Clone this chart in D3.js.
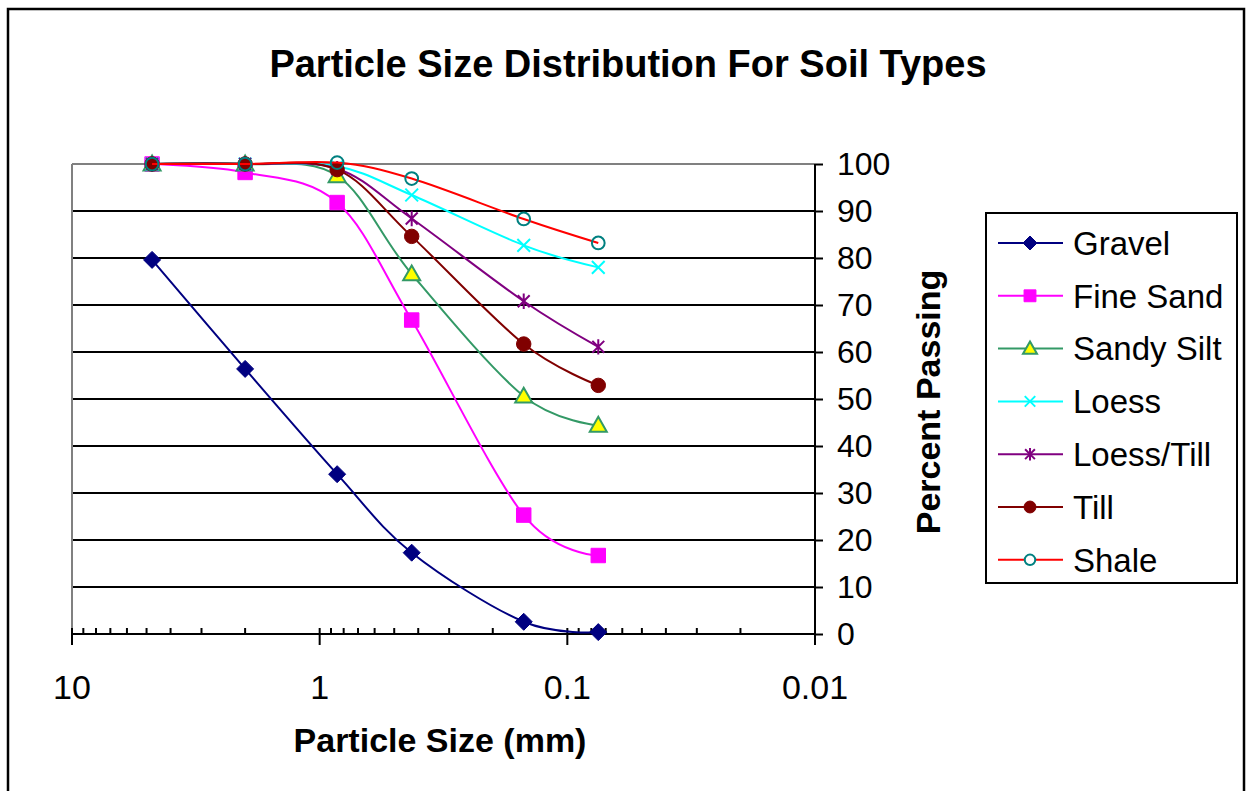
<!DOCTYPE html>
<html>
<head>
<meta charset="utf-8">
<script src="https://cdn.jsdelivr.net/npm/d3@7/dist/d3.min.js"></script>
<style>
  html, body { margin: 0; padding: 0; background: #fff; }
  svg { display: block; }
  text { font-family: Arial, "Liberation Sans", sans-serif; fill: #000; }
</style>
</head>
<body>
<svg id="chart" width="1246" height="791"></svg>
<script>
// ---- Data ----
const sieveSizes = [4.75, 2.0, 0.85, 0.425, 0.15, 0.075];
const seriesNames = ["Gravel", "Fine Sand", "Sandy Silt", "Loess", "Loess/Till", "Till", "Shale"];
const gravel    = [79.6, 56.4, 34.0, 17.3, 2.6, 0.4];
const fineSand  = [100, 98.2, 91.8, 66.8, 25.3, 16.7];
const sandySilt = [100, 100, 97.5, 76.6, 50.6, 44.4];
const loess     = [100, 100, 99.5, 93.4, 82.7, 78.0];
const loessTill = [100, 100, 99.0, 88.4, 70.8, 61.1];
const till      = [100, 100, 98.8, 84.6, 61.7, 52.9];
const shale     = [100, 100, 100.3, 96.9, 88.3, 83.2];
const seriesValues = [gravel, fineSand, sandySilt, loess, loessTill, till, shale];
const xTickValues = [10, 1, 0.1, 0.01];
const xTickLabels = ["10", "1", "0.1", "0.01"];
const yTickValues = [0, 10, 20, 30, 40, 50, 60, 70, 80, 90, 100];

const styles = [
  { line: "#000080", marker: "diamond", fill: "#000080", stroke: "#000080" },
  { line: "#FF00FF", marker: "square",  fill: "#FF00FF", stroke: "#FF00FF" },
  { line: "#339966", marker: "triangle", fill: "#FFFF00", stroke: "#339966" },
  { line: "#00FFFF", marker: "x",       fill: "none",    stroke: "#00FFFF" },
  { line: "#800080", marker: "star",    fill: "none",    stroke: "#800080" },
  { line: "#800000", marker: "circle",  fill: "#800000", stroke: "#800000" },
  { line: "#FF0000", marker: "ocircle", fill: "none",    stroke: "#008080" }
];

const svg = d3.select("#chart");

// outer frame
svg.append("rect").attr("x", 8).attr("y", 9).attr("width", 1236).attr("height", 800)
  .attr("fill", "#fff").attr("stroke", "#000").attr("stroke-width", 2.5);

const L = 72, R = 815, T = 164, B = 634;
const x = d3.scaleLog().domain([10, 0.01]).range([L, R]);
const y = d3.scaleLinear().domain([0, 100]).range([B, T]);

// gridlines
svg.append("g").selectAll("line").data(yTickValues.filter(v => v > 0 && v < 100)).join("line")
  .attr("x1", L).attr("x2", R).attr("y1", d => y(d)).attr("y2", d => y(d))
  .attr("stroke", "#000").attr("stroke-width", 2);

// plot area border (gray) top & left
svg.append("line").attr("x1", L).attr("x2", R).attr("y1", T).attr("y2", T)
  .attr("stroke", "#808080").attr("stroke-width", 2);
svg.append("line").attr("x1", L).attr("x2", L).attr("y1", T).attr("y2", B)
  .attr("stroke", "#808080").attr("stroke-width", 2);

// y axis on the right
const yAxis = d3.axisRight(y).tickValues(yTickValues).tickSize(8).tickPadding(14).tickFormat(d3.format("d"));
const gy = svg.append("g").attr("transform", `translate(${R},0)`).call(yAxis);
gy.select(".domain").attr("stroke", "#000").attr("stroke-width", 2).attr("d", `M0,${T}V${B + 11}`);
gy.selectAll(".tick line").attr("stroke", "#000").attr("stroke-width", 2);
gy.selectAll(".tick text").attr("font-size", 32).attr("font-family", "Arial, 'Liberation Sans', sans-serif").attr("fill", "#000");

// x axis
const minorTicks = [];
[1, 0.1, 0.01].forEach(base => { for (let k = 2; k <= 9; k++) minorTicks.push(base * k); });
const gx = svg.append("g");
gx.append("line").attr("x1", L).attr("x2", R).attr("y1", B).attr("y2", B)
  .attr("stroke", "#000").attr("stroke-width", 2);
gx.selectAll("line.minor").data(minorTicks).join("line").attr("class", "minor")
  .attr("x1", d => x(d)).attr("x2", d => x(d)).attr("y1", B).attr("y2", B - 6)
  .attr("stroke", "#000").attr("stroke-width", 2);
gx.selectAll("line.major").data(xTickValues).join("line").attr("class", "major")
  .attr("x1", d => x(d)).attr("x2", d => x(d)).attr("y1", B - 6).attr("y2", B + 11)
  .attr("stroke", "#000").attr("stroke-width", 2);
gx.selectAll("text").data(xTickValues).join("text")
  .attr("x", d => x(d)).attr("y", 699).attr("text-anchor", "middle")
  .attr("font-size", 34).text((d, i) => xTickLabels[i]);

// series lines
const lineGen = d3.line().x(d => x(d[0])).y(d => y(d[1])).curve(d3.curveCatmullRom.alpha(0));

function markerPath(type, s) {
  const p = d3.path();
  switch (type) {
    case "diamond": p.moveTo(0, -s); p.lineTo(s, 0); p.lineTo(0, s); p.lineTo(-s, 0); p.closePath(); break;
    case "square": p.rect(-s * 0.85, -s * 0.85, s * 1.7, s * 1.7); break;
    case "triangle": p.moveTo(0, -s); p.lineTo(s * 1.0, s * 0.75); p.lineTo(-s * 1.0, s * 0.75); p.closePath(); break;
    case "x": p.moveTo(-s * 0.75, -s * 0.75); p.lineTo(s * 0.75, s * 0.75); p.moveTo(s * 0.75, -s * 0.75); p.lineTo(-s * 0.75, s * 0.75); break;
    case "star": p.moveTo(-s * 0.7, -s * 0.7); p.lineTo(s * 0.7, s * 0.7); p.moveTo(s * 0.7, -s * 0.7); p.lineTo(-s * 0.7, s * 0.7); p.moveTo(0, -s * 0.9); p.lineTo(0, s * 0.9); break;
    case "circle": p.arc(0, 0, s * 0.85, 0, 2 * Math.PI); break;
    case "ocircle": p.arc(0, 0, s * 0.75, 0, 2 * Math.PI); break;
  }
  return p.toString();
}

seriesValues.forEach((vals, i) => {
  const pts = sieveSizes.map((s, j) => [s, vals[j]]);
  const st = styles[i];
  svg.append("path").datum(pts).attr("d", lineGen)
    .attr("fill", "none").attr("stroke", st.line).attr("stroke-width", 2);
  svg.append("g").selectAll("path").data(pts).join("path")
    .attr("transform", d => `translate(${x(d[0])},${y(d[1])})`)
    .attr("d", markerPath(st.marker, 8.5))
    .attr("fill", st.fill).attr("stroke", st.stroke)
    .attr("stroke-width", (st.marker === "x" || st.marker === "star" || st.marker === "ocircle" || st.marker === "triangle") ? 2 : 1);
});

// titles
svg.append("text").attr("x", 628).attr("y", 77).attr("text-anchor", "middle")
  .attr("font-size", 38).attr("font-weight", "bold").text("Particle Size Distribution For Soil Types");
svg.append("text").attr("x", 440).attr("y", 752).attr("text-anchor", "middle")
  .attr("font-size", 34).attr("font-weight", "bold").text("Particle Size (mm)");
svg.append("text").attr("transform", "translate(940,402) rotate(-90)").attr("text-anchor", "middle")
  .attr("font-size", 34).attr("font-weight", "bold").text("Percent Passing");

// legend
const lg = svg.append("g");
lg.append("rect").attr("x", 986).attr("y", 213).attr("width", 251).attr("height", 370)
  .attr("fill", "#fff").attr("stroke", "#000").attr("stroke-width", 2);
seriesNames.forEach((name, i) => {
  const ry = 243 + i * 52.8;
  const st = styles[i];
  lg.append("line").attr("x1", 998).attr("x2", 1063).attr("y1", ry).attr("y2", ry)
    .attr("stroke", st.line).attr("stroke-width", 2);
  lg.append("path").attr("transform", `translate(1030,${ry})`).attr("d", markerPath(st.marker, 7))
    .attr("fill", st.marker === "ocircle" ? "#fff" : st.fill).attr("stroke", st.stroke)
    .attr("stroke-width", (st.marker === "x" || st.marker === "star" || st.marker === "ocircle" || st.marker === "triangle") ? 2 : 1);
  lg.append("text").attr("x", 1073).attr("y", ry).attr("dy", "0.36em")
    .attr("font-size", 33).text(name);
});
</script>
</body>
</html>
